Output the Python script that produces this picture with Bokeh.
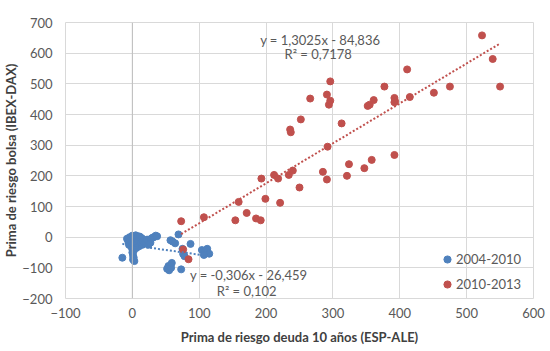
from bokeh.plotting import figure
from bokeh.models import Range1d, FixedTicker, Label, Legend, LegendItem, Span
from bokeh.embed import file_html
from bokeh.resources import INLINE

# ---- data ----
blue_x = [-15, -8, -6, -5, -4, -3, -2, -1, 0, 0, 0, 0, 1, 1, 2, 3, 2, 3, 4, 4, 5, 5, 6, 7, 8, 8,
          9, 10, 11, 12, 13, 14, 15, 16, 18, 20, 22, 24, 25, 27, 28, 30, 32, 35, 37,
          57, 60, 64, 69, 75, 76, 78, 87, 54, 52, 55, 58, 59, 73, 104, 109, 112, 115, 107]
blue_y = [-67, -5, -15, -25, 0, -10, -30, -20, 5, -8, -40, -50, -60, -73, -66, -78, -45, -12, 0, -25,
          6, -18, -35, -5, 3, -22, -12, -30, 2, -8, -18, -3, -25, -12, -20, -15, -8, -25, -13, -18,
          -5, -2, 0, 5, 3, -10, -14, -20, 9, -38, -55, -62, -22, -94, -103, -108, -100, -84, -105,
          -42, -46, -38, -54, -58]
red_x = [73, 76, 84, 107, 154, 159, 171, 185, 192, 193, 199, 212, 218, 221, 234, 240, 236, 237,
         250, 252, 266, 285, 291, 291, 292, 294, 296, 296, 313, 321, 324, 347, 352, 355, 358, 361,
         377, 392, 392, 393, 392, 411, 415, 451, 475, 523, 539, 550]
red_y = [52, -40, -72, 65, 55, 115, 79, 61, 55, 191, 125, 203, 191, 112, 203, 217, 351, 342,
         162, 384, 452, 213, 188, 465, 295, 432, 445, 508, 371, 200, 238, 225, 428, 432, 252, 447,
         491, 268, 454, 443, 440, 547, 457, 471, 491, 658, 581, 491]
series_names = ["2004-2010", "2010-2013"]
blue_fit = (-0.306, -26.459)
red_fit = (1.3025, -84.836)
blue_eq = ["y = -0,306x - 26,459", "R² = 0,102"]
red_eq = ["y = 1,3025x - 84,836", "R² = 0,7178"]
x_ticks = [-100, 0, 100, 200, 300, 400, 500, 600]
y_ticks = [-200, -100, 0, 100, 200, 300, 400, 500, 600, 700]
x_title = "Prima de riesgo deuda 10 años (ESP-ALE)"
y_title = "Prima de riesgo bolsa (IBEX-DAX)"

BLUE = "#4F81BD"
RED = "#C0504D"
GRID = "#d9d9d9"
TXT = "#595959"
FONT = "Lato"

p = figure(width=550, height=351, output_backend="svg", toolbar_location=None,
           x_range=Range1d(-100, 600), y_range=Range1d(-200, 700),
           min_border_left=63, min_border_right=17, min_border_top=22, min_border_bottom=53)
p.background_fill_color = "white"
p.border_fill_color = "white"
p.outline_line_color = GRID

for ax in (p.xaxis[0], p.yaxis[0]):
    ax.axis_line_color = None
    ax.major_tick_line_color = None
    ax.minor_tick_line_color = None
    ax.major_tick_out = 0
    ax.major_tick_in = 0
    ax.minor_tick_out = 0
    ax.minor_tick_in = 0
    ax.major_label_text_font = FONT
    ax.major_label_text_font_size = "13px"
    ax.major_label_text_color = TXT
    ax.axis_label_text_font = FONT
    ax.axis_label_text_font_size = "13px"
    ax.axis_label_text_font_style = "bold"
    ax.axis_label_text_color = "#404040"

p.xaxis.ticker = FixedTicker(ticks=x_ticks)
p.yaxis.ticker = FixedTicker(ticks=y_ticks)
p.xaxis.major_label_standoff = 9
p.yaxis.major_label_standoff = 13
p.xaxis.axis_label = x_title
p.yaxis.axis_label = y_title
p.xaxis.axis_label_standoff = 8
p.yaxis.axis_label_standoff = 0

p.xgrid.ticker = FixedTicker(ticks=x_ticks)
p.ygrid.ticker = FixedTicker(ticks=y_ticks)
p.xgrid.grid_line_color = GRID
p.ygrid.grid_line_color = GRID
p.xgrid.grid_line_width = 1
p.ygrid.grid_line_width = 1

p.add_layout(Span(location=0, dimension="height", line_color="#bfbfbf", line_width=1))

rb = p.scatter(blue_x, blue_y, size=7, color=BLUE, line_color=BLUE)
rr = p.scatter(red_x, red_y, size=7, color=RED, line_color=RED)

bx = [min(blue_x), max(blue_x)]
p.line(bx, [blue_fit[0] * v + blue_fit[1] for v in bx], line_color=BLUE, line_width=2, line_dash="2 2")
rx = [min(red_x), max(red_x)]
p.line(rx, [red_fit[0] * v + red_fit[1] for v in rx], line_color=RED, line_width=2, line_dash="2 2")

for txt, x, y in [(red_eq[0], 281, 644), (red_eq[1], 278, 598),
                  (blue_eq[0], 174, -122), (blue_eq[1], 171, -174)]:
    p.add_layout(Label(x=x, y=y, text=txt, text_align="center", text_baseline="middle",
                       text_font=FONT, text_font_size="13px", text_color=TXT))

legend = Legend(items=[LegendItem(label=series_names[0], renderers=[rb]),
                       LegendItem(label=series_names[1], renderers=[rr])],
                location=(373, 5), orientation="vertical",
                glyph_width=18, glyph_height=18, label_height=18, spacing=7,
                label_standoff=0, padding=0, margin=0,
                border_line_color=None, background_fill_alpha=0,
                label_text_font=FONT, label_text_font_size="13px", label_text_color=TXT)
p.add_layout(legend)

open("out.html", "w").write(file_html(p, INLINE))
